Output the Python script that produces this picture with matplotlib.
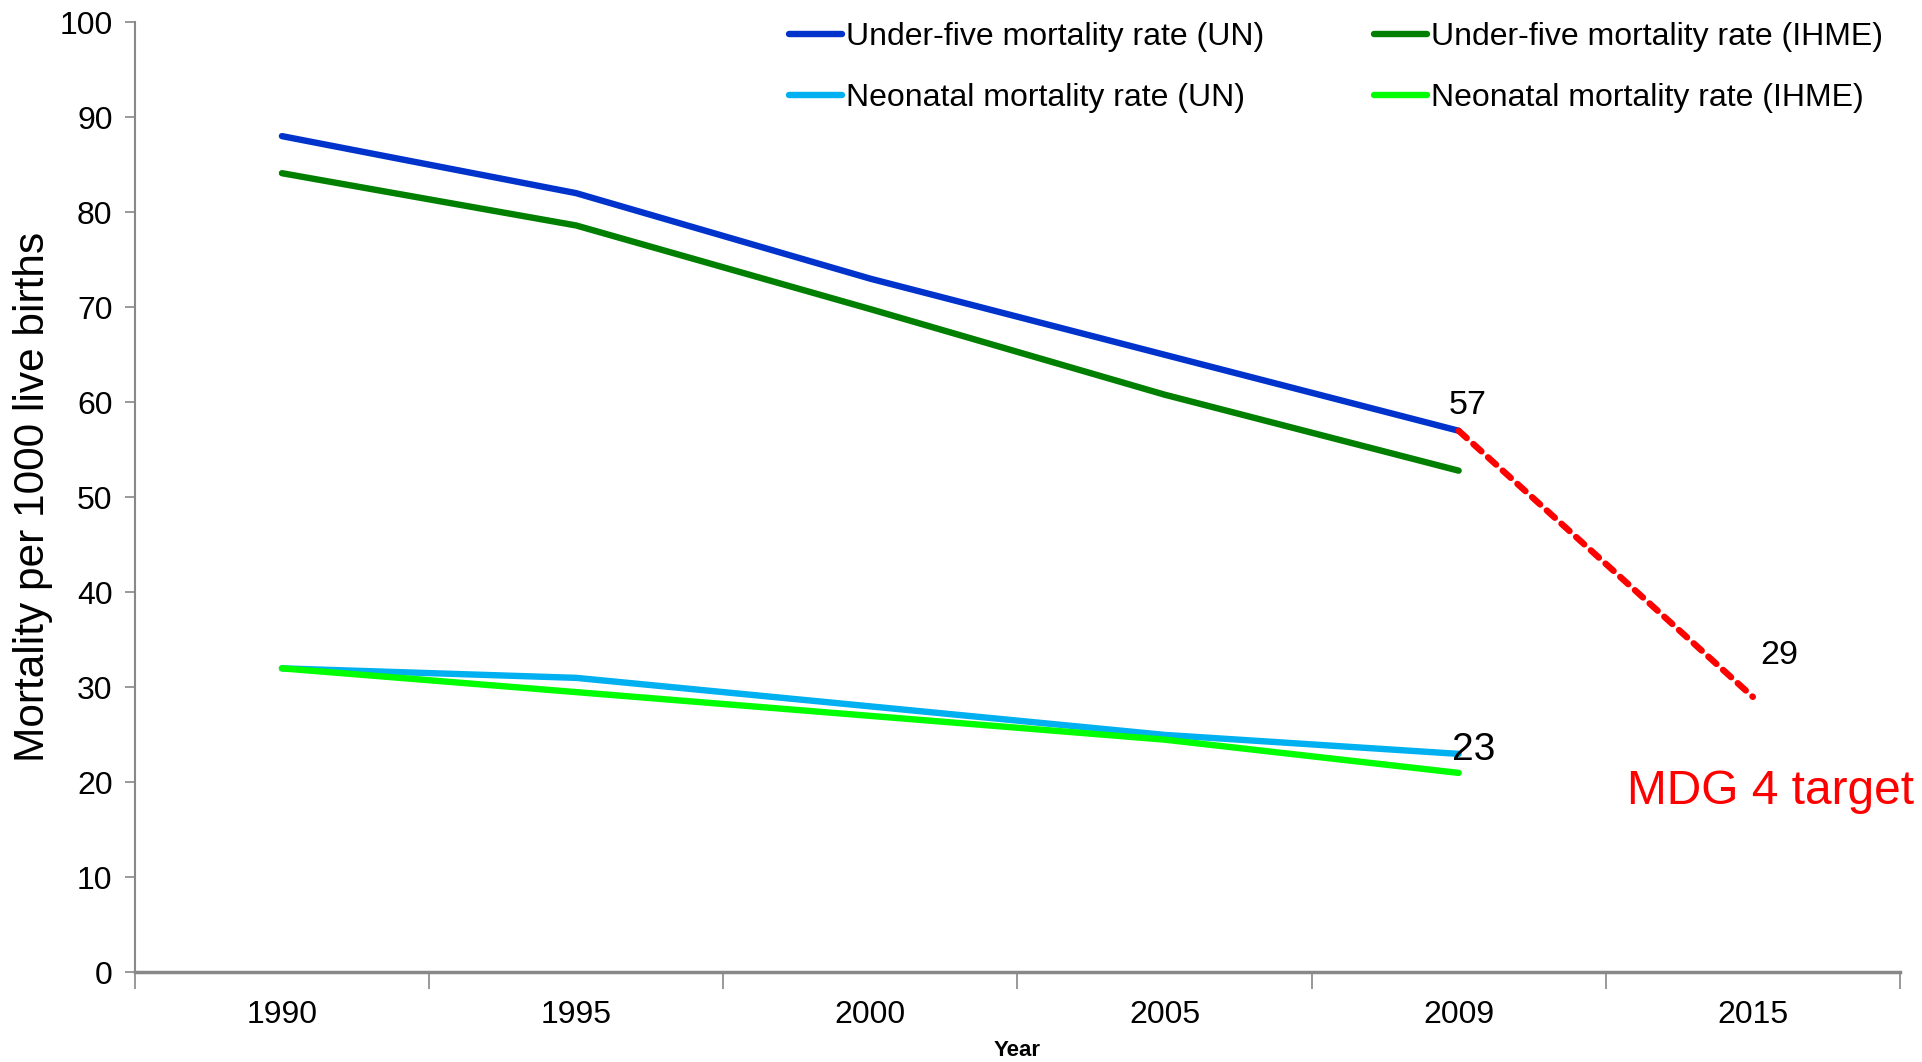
import matplotlib
matplotlib.use("Agg")
import matplotlib.pyplot as plt
import numpy as np

plt.rcParams['font.family'] = ['Liberation Sans', 'DejaVu Sans']

years = ["1990", "1995", "2000", "2005", "2009", "2015"]
u5_un = [88, 82, 73, 65, 57]
u5_ihme = [84.1, 78.6, 69.8, 60.8, 52.8]
nn_un = [32, 31, 28, 25, 23]
nn_ihme = [32, 29.5, 27, 24.5, 21]
target_years = ["2009", "2015"]
target_vals = [57, 29]

W, H = 1922, 1062
fig = plt.figure(figsize=(W / 100, H / 100), dpi=100)
ax = fig.add_axes([110 / 1568, 1 - 793 / 866, (1550 - 110) / 1568, (793 - 18) / 866])

x = np.arange(len(years))
n = len(u5_un)
lw = 4.6
l1, = ax.plot(x[:n], u5_un, color='#0033CC', lw=lw, solid_capstyle='round', label='Under-five mortality rate (UN)')
l2, = ax.plot(x[:n], u5_ihme, color='#007F00', lw=lw, solid_capstyle='round', label='Under-five mortality rate (IHME)')
l3, = ax.plot(x[:n], nn_un, color='#00B0F0', lw=lw, solid_capstyle='round', label='Neonatal mortality rate (UN)')
l4, = ax.plot(x[:n], nn_ihme, color='#00FF00', lw=lw, solid_capstyle='round', label='Neonatal mortality rate (IHME)')
tx = [years.index(t) for t in target_years]
ax.plot(tx, target_vals, color='#FF0000', lw=lw, linestyle=(0, (1.7, 1.4)), dash_capstyle='round')

ax.set_xlim(-0.5, len(years) - 0.5)
ax.set_ylim(0, 100)
ax.set_yticks(np.arange(0, 101, 10))
ax.tick_params(axis='y', labelsize=23, length=7, width=1.2, color='#888888', pad=9)
ax.set_xticks(np.arange(-0.5, len(years), 1.0))
ax.set_xticklabels([])
ax.set_xticks(x, minor=True)
ax.set_xticklabels(years, minor=True)
ax.tick_params(axis='x', which='major', length=12, width=1.2, color='#888888')
ax.tick_params(axis='x', which='minor', length=0, labelsize=23, pad=20)
for s in ['top', 'right']:
    ax.spines[s].set_visible(False)
ax.spines['left'].set_color('#888888')
ax.spines['left'].set_linewidth(1.5)
ax.spines['bottom'].set_color('#888888')
ax.spines['bottom'].set_linewidth(2.5)

ax.text(4.03, 59.7, "57", fontsize=24.5, ha='center', va='center')
ax.text(5.09, 33.3, "29", fontsize=24.5, ha='center', va='center')
ax.text(4.05, 23.4, "23", fontsize=28, ha='center', va='center')
ax.text(5.06, 19.0, "MDG 4 target", fontsize=34.5, color='#FF0000', ha='center', va='center', clip_on=False)

fig.text(27 / 1568, 1 - 405 / 866, "Mortality per 1000 live births", rotation=90,
         fontsize=30.5, ha='center', va='center')
fig.text(830 / 1568, 1 - 857 / 866, "Year", fontsize=16, fontweight='bold', ha='center', va='center')

leg = fig.legend(handles=[l1, l3, l2, l4], ncol=2, loc='upper left',
                 bbox_to_anchor=(644 / 1568, 1 - 18 / 866), frameon=False,
                 fontsize=23, handlelength=1.65, handletextpad=0.12,
                 columnspacing=3.45, labelspacing=0.97, borderpad=0, borderaxespad=0)

fig.savefig("out.png", dpi=100, facecolor='white')
